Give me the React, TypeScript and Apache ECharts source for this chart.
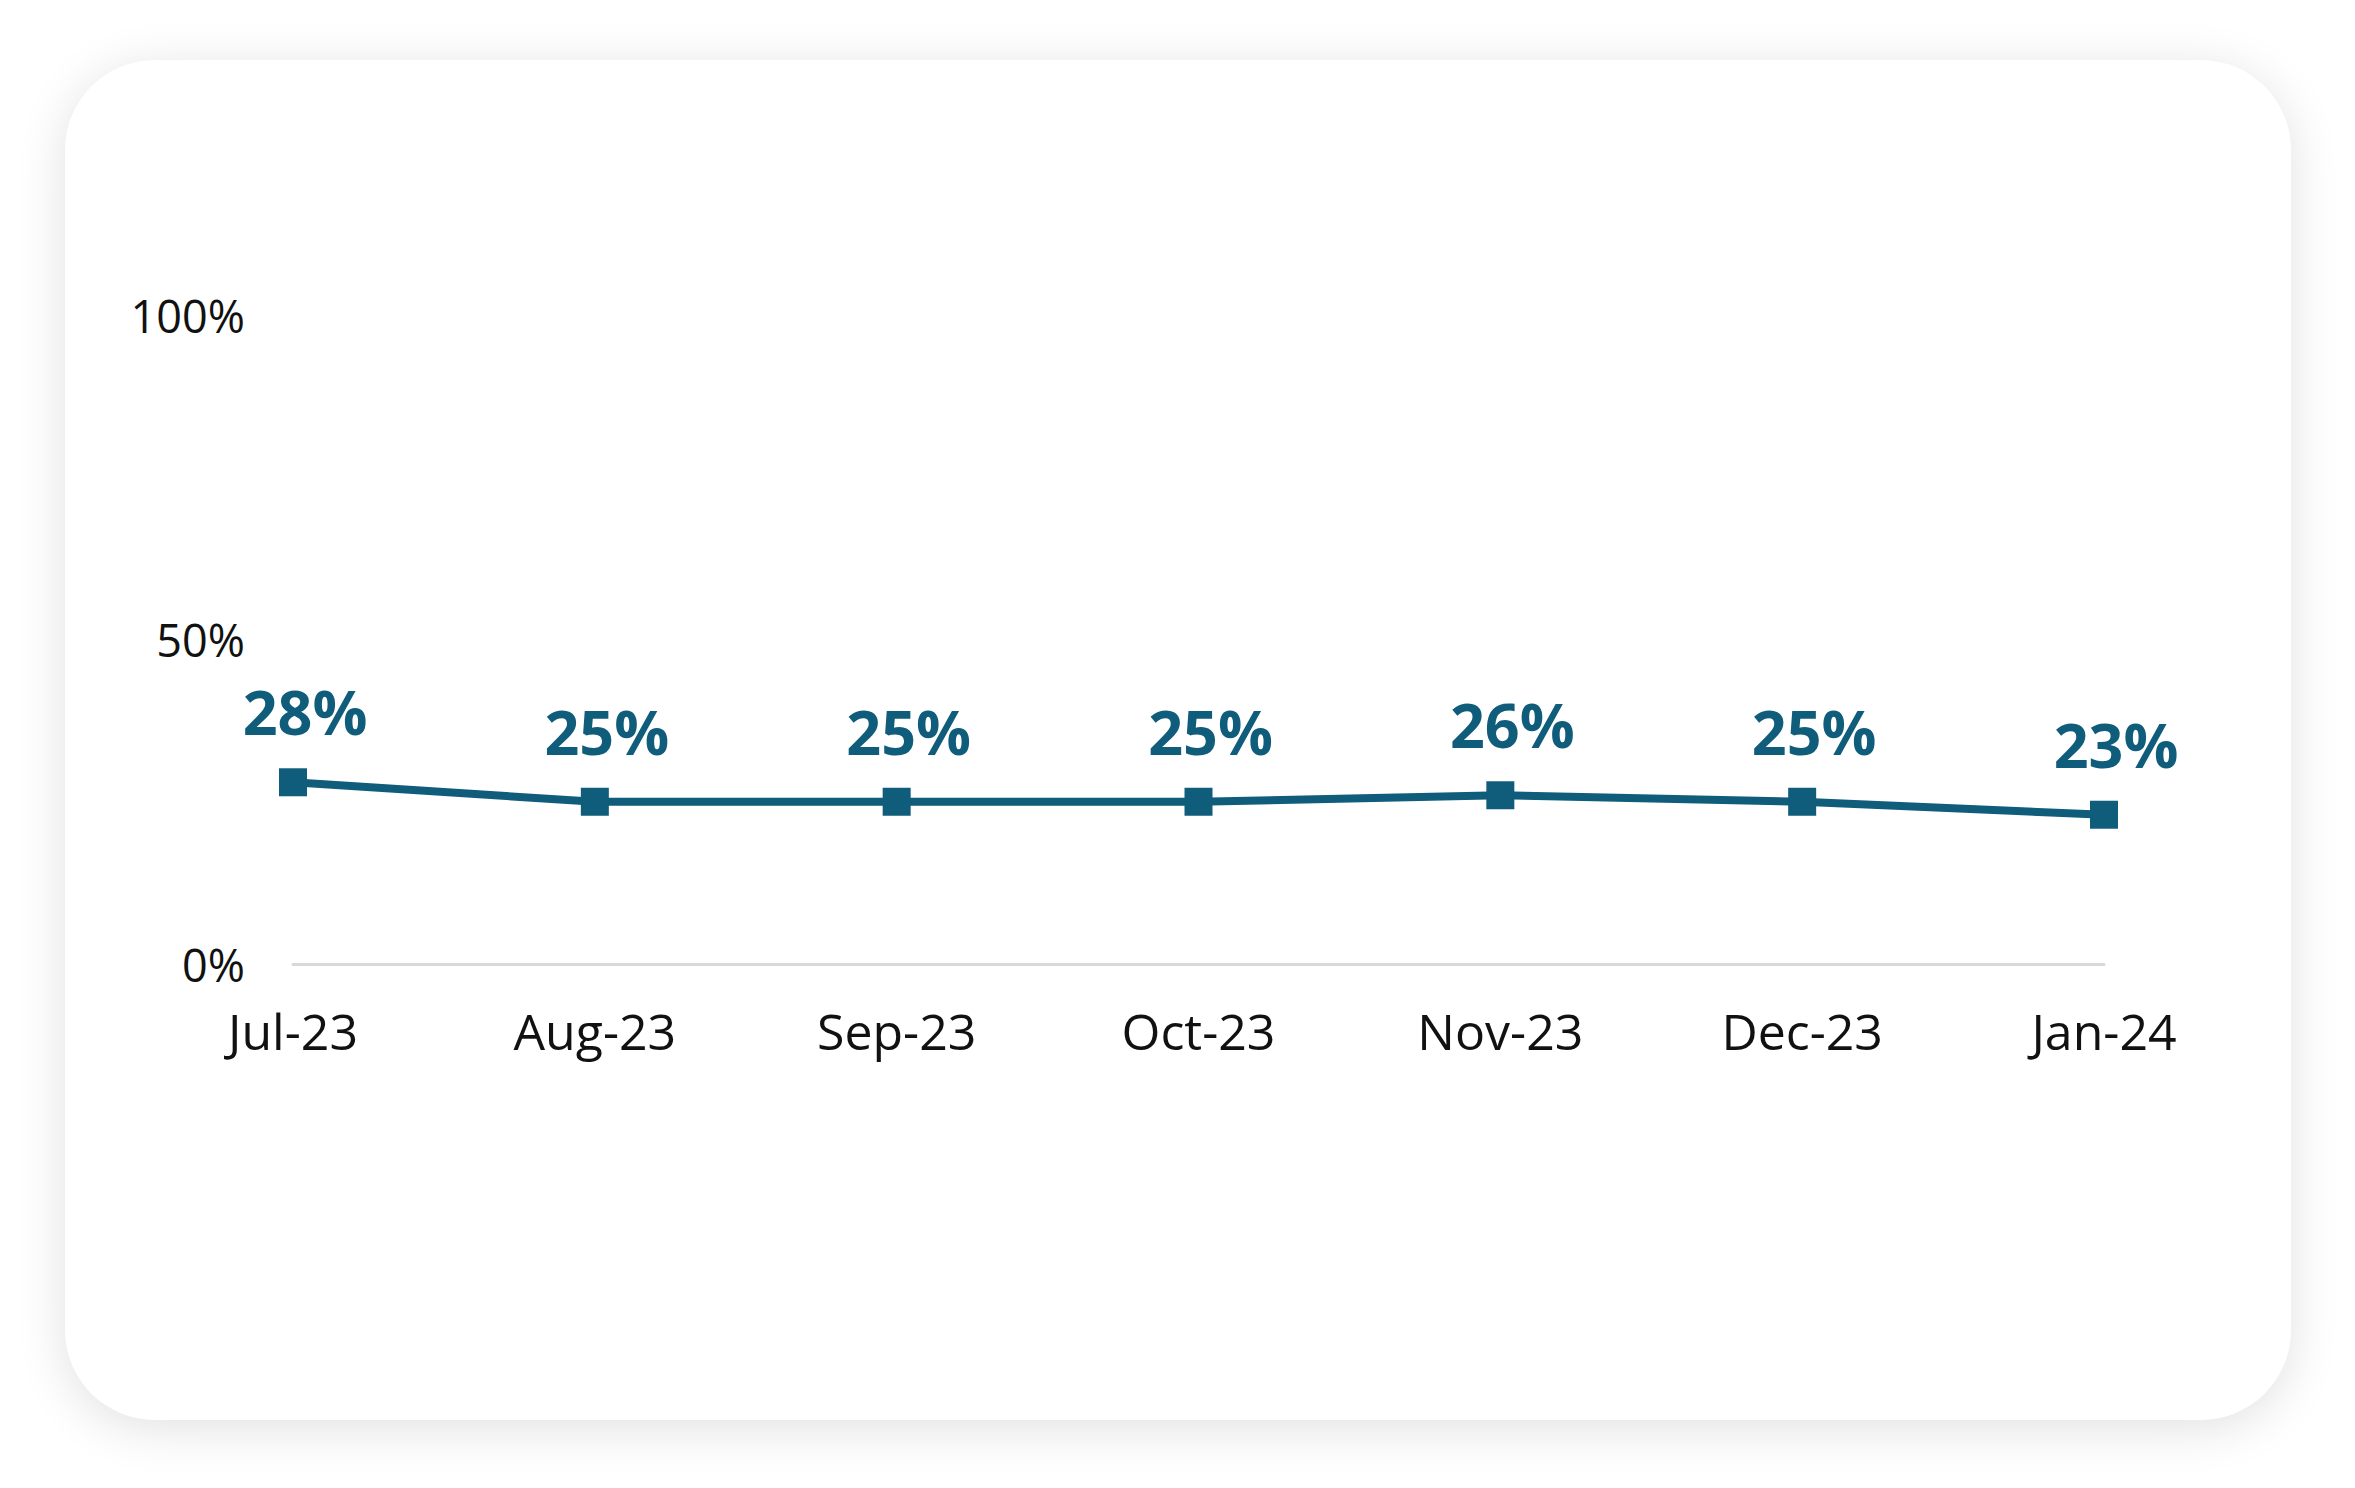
import React, { useEffect, useRef } from 'react';
import * as echarts from 'echarts';

const months = ['Jul-23', 'Aug-23', 'Sep-23', 'Oct-23', 'Nov-23', 'Dec-23', 'Jan-24'];
const shares = [28, 25, 25, 25, 26, 25, 23];
const yTicks = [0, 50, 100];

const LINE_COLOR = '#0F5C7B';
const FONT = '"Open Sans", "Noto Sans", sans-serif';

export default function App() {
  const chartRef = useRef<HTMLDivElement>(null);

  useEffect(() => {
    if (!chartRef.current) return;
    const chart = echarts.init(chartRef.current, undefined, { renderer: 'svg' });

    const option: echarts.EChartsOption = {
      animation: false,
      backgroundColor: 'transparent',
      grid: { left: 293, right: 251, top: 315, bottom: 524 },
      xAxis: {
        type: 'category',
        data: months,
        boundaryGap: false,
        axisLine: { lineStyle: { color: '#D9D9D9', width: 3 } },
        axisTick: { show: false },
        axisLabel: {
          color: '#111',
          fontFamily: FONT,
          fontSize: 50,
          margin: 42
        }
      },
      yAxis: {
        type: 'value',
        min: yTicks[0],
        max: yTicks[yTicks.length - 1],
        interval: yTicks[1] - yTicks[0],
        axisLine: { show: false },
        axisTick: { show: false },
        splitLine: { show: false },
        axisLabel: {
          color: '#111',
          fontFamily: FONT,
          fontSize: 45,
          margin: 48,
          formatter: '{value}%'
        }
      },
      series: [
        {
          type: 'line',
          data: shares,
          symbol: 'rect',
          symbolSize: 28,
          lineStyle: { color: LINE_COLOR, width: 8 },
          itemStyle: { color: LINE_COLOR },
          label: {
            show: true,
            position: 'top',
            distance: 26,
            offset: [12, 0],
            formatter: '{c}%',
            color: LINE_COLOR,
            fontFamily: FONT,
            fontWeight: 'bold',
            fontSize: 61
          }
        }
      ]
    };

    chart.setOption(option);
    return () => chart.dispose();
  }, []);

  return (
    <div
      style={{
        position: 'absolute',
        left: 0,
        top: 0,
        width: 2355,
        height: 1488,
        background: '#fff',
        overflow: 'hidden'
      }}
    >
      <div
        style={{
          position: 'absolute',
          left: 65,
          top: 60,
          width: 2226,
          height: 1360,
          borderRadius: 90,
          background: '#fff',
          boxShadow: '0 8px 50px rgba(0,0,0,0.12)'
        }}
      />
      <div
        ref={chartRef}
        style={{ position: 'absolute', left: 0, top: 0, width: 2355, height: 1488 }}
      />
    </div>
  );
}
